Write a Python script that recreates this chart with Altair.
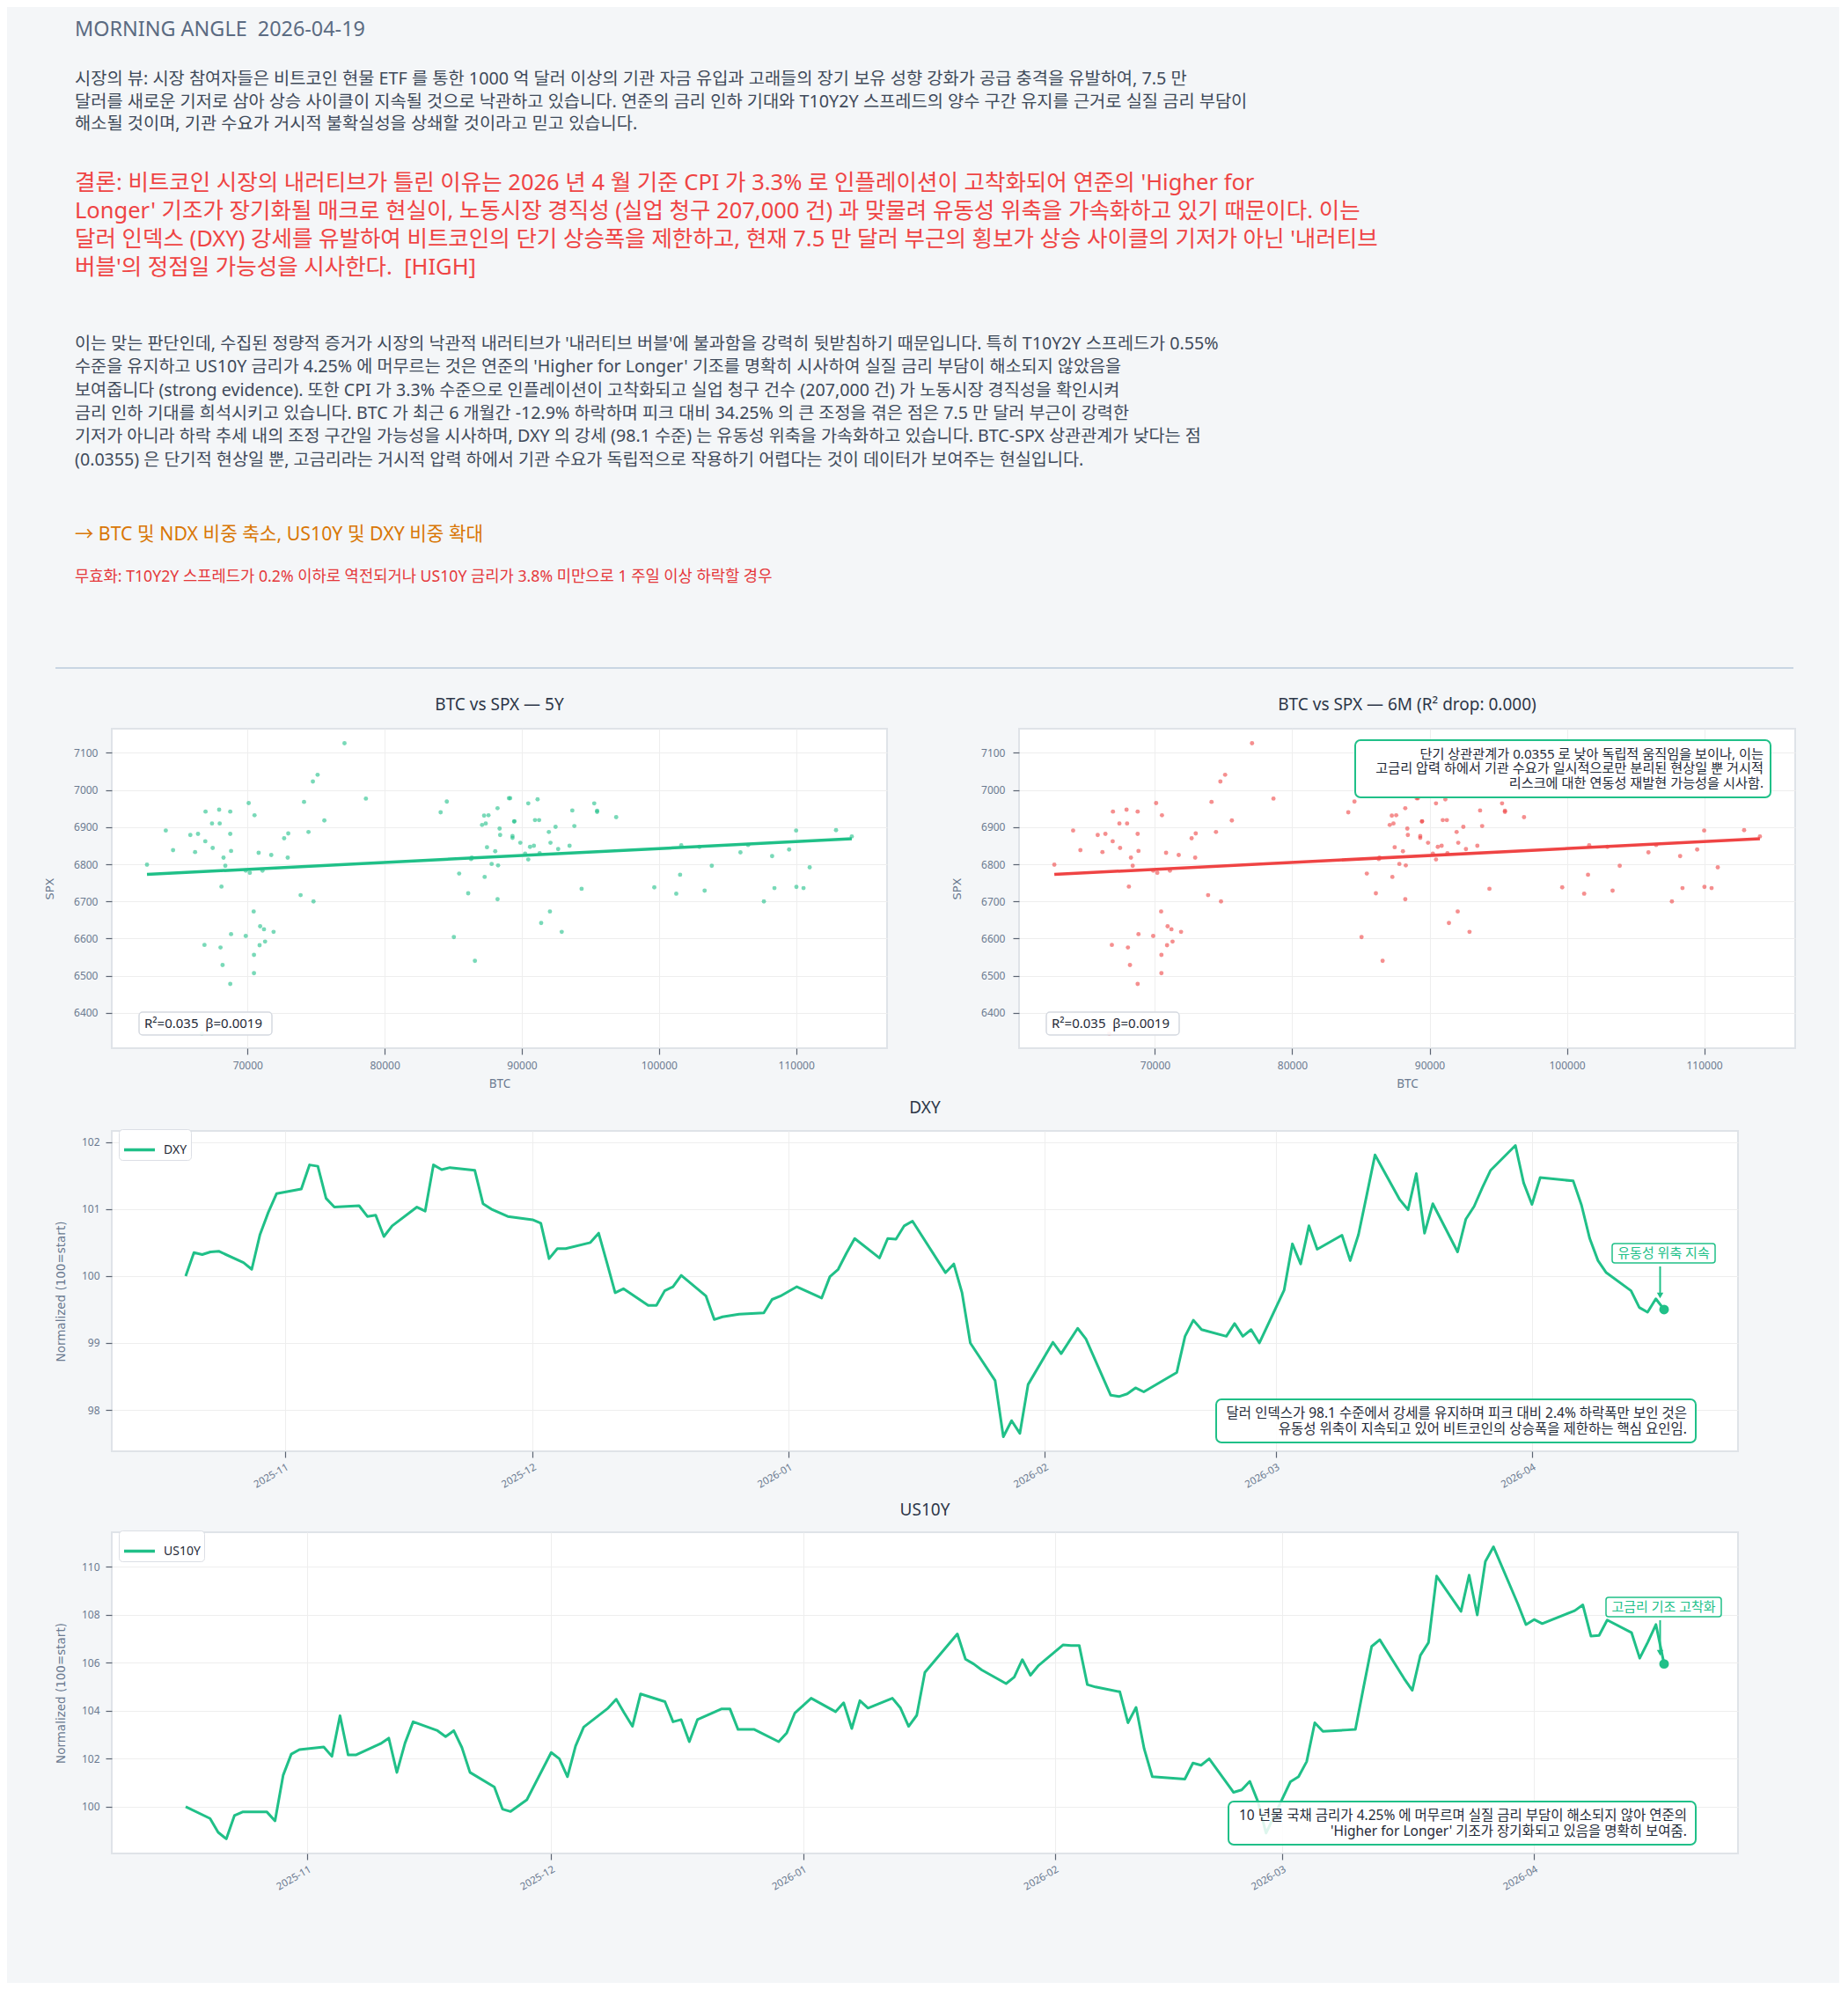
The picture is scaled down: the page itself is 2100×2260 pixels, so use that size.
import altair as alt
import pandas as pd

FONT = "Noto Sans, Noto Sans CJK KR"
AXFONT = "DejaVu Sans"
GREEN = "#20c088"
RED = "#ef4444"
INK = "#1f2937"
SLATE = "#6b7a90"
PAGE_BG = "#f4f6f8"
NB = "\u00a0"

# ---------------- text content ----------------
header_text = "MORNING ANGLE " + NB + "2026-04-19"
view_lines = [
    "시장의 뷰: 시장 참여자들은 비트코인 현물 ETF 를 통한 1000 억 달러 이상의 기관 자금 유입과 고래들의 장기 보유 성향 강화가 공급 충격을 유발하여, 7.5 만",
    "달러를 새로운 기저로 삼아 상승 사이클이 지속될 것으로 낙관하고 있습니다. 연준의 금리 인하 기대와 T10Y2Y 스프레드의 양수 구간 유지를 근거로 실질 금리 부담이",
    "해소될 것이며, 기관 수요가 거시적 불확실성을 상쇄할 것이라고 믿고 있습니다.",
]
conclusion_lines = [
    "결론: 비트코인 시장의 내러티브가 틀린 이유는 2026 년 4 월 기준 CPI 가 3.3% 로 인플레이션이 고착화되어 연준의 'Higher for",
    "Longer' 기조가 장기화될 매크로 현실이, 노동시장 경직성 (실업 청구 207,000 건) 과 맞물려 유동성 위축을 가속화하고 있기 때문이다. 이는",
    "달러 인덱스 (DXY) 강세를 유발하여 비트코인의 단기 상승폭을 제한하고, 현재 7.5 만 달러 부근의 횡보가 상승 사이클의 기저가 아닌 '내러티브",
    "버블'의 정점일 가능성을 시사한다. " + NB + "[HIGH]",
]
body_lines = [
    "이는 맞는 판단인데, 수집된 정량적 증거가 시장의 낙관적 내러티브가 '내러티브 버블'에 불과함을 강력히 뒷받침하기 때문입니다. 특히 T10Y2Y 스프레드가 0.55%",
    "수준을 유지하고 US10Y 금리가 4.25% 에 머무르는 것은 연준의 'Higher for Longer' 기조를 명확히 시사하여 실질 금리 부담이 해소되지 않았음을",
    "보여줍니다 (strong evidence). 또한 CPI 가 3.3% 수준으로 인플레이션이 고착화되고 실업 청구 건수 (207,000 건) 가 노동시장 경직성을 확인시켜",
    "금리 인하 기대를 희석시키고 있습니다. BTC 가 최근 6 개월간 -12.9% 하락하며 피크 대비 34.25% 의 큰 조정을 겪은 점은 7.5 만 달러 부근이 강력한",
    "기저가 아니라 하락 추세 내의 조정 구간일 가능성을 시사하며, DXY 의 강세 (98.1 수준) 는 유동성 위축을 가속화하고 있습니다. BTC-SPX 상관관계가 낮다는 점",
    "(0.0355) 은 단기적 현상일 뿐, 고금리라는 거시적 압력 하에서 기관 수요가 독립적으로 작용하기 어렵다는 것이 데이터가 보여주는 현실입니다.",
]
action_text = "→ BTC 및 NDX 비중 축소, US10Y 및 DXY 비중 확대"
invalid_text = "무효화: T10Y2Y 스프레드가 0.2% 이하로 역전되거나 US10Y 금리가 3.8% 미만으로 1 주일 이상 하락할 경우"

scatter_left_title = "BTC vs SPX — 5Y"
scatter_right_title = "BTC vs SPX — 6M (R² drop: 0.000)"
stats_text = "R²=0.035 " + NB + "β=0.0019"
scatter_note = [
    "단기 상관관계가 0.0355 로 낮아 독립적 움직임을 보이나, 이는",
    "고금리 압력 하에서 기관 수요가 일시적으로만 분리된 현상일 뿐 거시적",
    "리스크에 대한 연동성 재발현 가능성을 시사함.",
]
dxy_label = "유동성 위축 지속"
dxy_note = [
    "달러 인덱스가 98.1 수준에서 강세를 유지하며 피크 대비 2.4% 하락폭만 보인 것은",
    "유동성 위축이 지속되고 있어 비트코인의 상승폭을 제한하는 핵심 요인임.",
]
us10y_label = "고금리 기조 고착화"
us10y_note = [
    "10 년물 국채 금리가 4.25% 에 머무르며 실질 금리 부담이 해소되지 않아 연준의",
    "'Higher for Longer' 기조가 장기화되고 있음을 명확히 보여줌.",
]

# ---------------- data ----------------
btc = [62670, 64040, 64570, 65830, 66390, 66175, 66940, 66920, 67410, 67930, 67970, 67460,
       68740, 68740, 68250, 68800, 68380, 68100, 70085, 70510, 69870, 70170, 71090, 70810,
       71730, 72670, 72970, 72930, 74120, 74765, 75110, 74445, 75600, 77070, 78630, 73870,
       74810, 70450, 70920, 71200, 71900, 68800, 69870, 66860, 68030, 70880, 71280, 70470,
       68180, 70470, 68740, 66670, 84080, 84530, 85045, 85430, 86090, 86580, 86300, 86350,
       87100, 87250, 87370, 87570, 87460, 87290, 88060, 88230, 88380, 88420, 87800, 88270,
       88230, 89060, 89150, 89440, 89460, 89320, 89320, 89890, 90470, 91150, 90960, 91260,
       91970, 92460, 92090, 90600, 90880, 90240, 90470, 91300, 92650, 93480, 93680, 93830,
       95280, 95490, 95490, 96880, 94360, 92050, 91410, 92910, 99660, 101260, 101540, 101625,
       102950, 103330, 103850, 105940, 106500, 107650, 108250, 108420, 109490, 110000, 110020,
       110540, 110990, 112910, 114060]
spx = [6799, 6891, 6838, 6879, 6882, 6833, 6942, 6862, 6910, 6947, 6910, 6844,
       6942, 6882, 6818, 6836, 6796, 6740, 6965, 6932, 6783, 6777, 6783, 6831,
       6825, 6870, 6883, 6818, 6968, 7023, 7041, 6887, 6918, 7126, 6977, 6717,
       6700, 6673, 6633, 6625, 6618, 6612, 6607, 6583, 6576, 6582, 6592, 6556,
       6529, 6507, 6478, 6344, 6940, 6969, 6604, 6775, 6722, 6540, 6814, 6818,
       6906, 6931, 6910, 6932, 6846, 6766, 6835, 6951, 6896, 6879, 6801, 6797,
       6706, 6978, 6978, 6915, 6916, 6876, 6871, 6858, 6964, 6975, 6919, 6919,
       6887, 6901, 6858, 6847, 6850, 6829, 6813, 6830, 6841, 6850, 6945, 6903,
       6964, 6944, 6941, 6927, 6734, 6673, 6642, 6618, 6738, 6721, 6772, 6851,
       6847, 6729, 6796, 6832, 6852, 6700, 6822, 6736, 6840, 6891, 6739,
       6736, 6792, 6892, 6875]

# fitted line end points as drawn in the reference (R²=0.035, β≈0.0019)
fit_btc = [62670, 114060]
fit_spx = [6772.7, 6868.7]

dxy_dates = [
    "2025-10-20", "2025-10-21", "2025-10-22", "2025-10-23", "2025-10-24", "2025-10-27", "2025-10-28",
    "2025-10-29", "2025-10-30", "2025-10-31", "2025-11-03", "2025-11-04", "2025-11-05", "2025-11-06",
    "2025-11-07", "2025-11-10", "2025-11-11", "2025-11-12", "2025-11-13", "2025-11-14", "2025-11-17",
    "2025-11-18", "2025-11-19", "2025-11-20", "2025-11-21", "2025-11-24", "2025-11-25", "2025-11-26",
    "2025-11-28", "2025-12-01", "2025-12-02", "2025-12-03", "2025-12-04", "2025-12-05", "2025-12-08",
    "2025-12-09", "2025-12-10", "2025-12-11", "2025-12-12", "2025-12-15", "2025-12-16", "2025-12-17",
    "2025-12-18", "2025-12-19", "2025-12-22", "2025-12-23", "2025-12-24", "2025-12-26", "2025-12-29",
    "2025-12-30", "2025-12-31", "2026-01-02", "2026-01-05", "2026-01-06", "2026-01-07", "2026-01-08",
    "2026-01-09", "2026-01-12", "2026-01-13", "2026-01-14", "2026-01-15", "2026-01-16", "2026-01-20",
    "2026-01-21", "2026-01-22", "2026-01-23", "2026-01-26", "2026-01-27", "2026-01-28", "2026-01-29",
    "2026-01-30", "2026-02-02", "2026-02-03", "2026-02-04", "2026-02-05", "2026-02-06", "2026-02-09",
    "2026-02-10", "2026-02-11", "2026-02-12", "2026-02-13", "2026-02-17", "2026-02-18", "2026-02-19",
    "2026-02-20", "2026-02-23", "2026-02-24", "2026-02-25", "2026-02-26", "2026-02-27", "2026-03-02",
    "2026-03-03", "2026-03-04", "2026-03-05", "2026-03-06", "2026-03-09", "2026-03-10", "2026-03-11",
    "2026-03-12", "2026-03-13", "2026-03-16", "2026-03-17", "2026-03-18", "2026-03-19", "2026-03-20",
    "2026-03-23", "2026-03-24", "2026-03-25", "2026-03-26", "2026-03-27", "2026-03-30", "2026-03-31",
    "2026-04-01", "2026-04-02", "2026-04-06", "2026-04-07", "2026-04-08", "2026-04-09", "2026-04-10",
    "2026-04-13", "2026-04-14", "2026-04-15", "2026-04-16", "2026-04-17",
]
dxy_values = [
    100.00, 100.35, 100.32, 100.36, 100.37, 100.20, 100.10,
    100.62, 100.95, 101.23, 101.30, 101.66, 101.64, 101.16,
    101.03, 101.05, 100.89, 100.91, 100.59, 100.75, 101.03,
    100.97, 101.66, 101.59, 101.62, 101.58, 101.08, 101.00,
    100.89, 100.84, 100.79, 100.26, 100.41, 100.41, 100.50,
    100.64, 100.20, 99.75, 99.81, 99.56, 99.56, 99.78,
    99.84, 100.01, 99.70, 99.35, 99.39, 99.43, 99.45,
    99.65, 99.70, 99.84, 99.67, 99.99, 100.10, 100.34,
    100.56, 100.27, 100.56, 100.55, 100.75, 100.82, 100.05,
    100.18, 99.75, 99.00, 98.44, 97.60, 97.84, 97.65,
    98.38, 99.01, 98.84, 99.03, 99.22, 99.06, 98.22,
    98.20, 98.24, 98.33, 98.27, 98.56, 99.10, 99.34,
    99.20, 99.10, 99.29, 99.10, 99.20, 99.00, 99.79,
    100.48, 100.18, 100.75, 100.40, 100.61, 100.23, 100.62,
    101.21, 101.81, 101.14, 100.99, 101.53, 100.64, 101.08,
    100.36, 100.85, 101.04, 101.32, 101.58, 101.95, 101.39,
    101.07, 101.47, 101.42, 101.06, 100.56, 100.23, 100.05,
    99.78, 99.53, 99.46, 99.66, 99.50,
]

us10y_dates = [
    "2025-10-17", "2025-10-20", "2025-10-21", "2025-10-22", "2025-10-23", "2025-10-24", "2025-10-27",
    "2025-10-28", "2025-10-29", "2025-10-30", "2025-10-31", "2025-11-03", "2025-11-04", "2025-11-05",
    "2025-11-06", "2025-11-07", "2025-11-10", "2025-11-11", "2025-11-12", "2025-11-13", "2025-11-14",
    "2025-11-17", "2025-11-18", "2025-11-19", "2025-11-20", "2025-11-21", "2025-11-24", "2025-11-25",
    "2025-11-26", "2025-11-28", "2025-12-01", "2025-12-02", "2025-12-03", "2025-12-04", "2025-12-05",
    "2025-12-08", "2025-12-09", "2025-12-10", "2025-12-11", "2025-12-12", "2025-12-15", "2025-12-16",
    "2025-12-17", "2025-12-18", "2025-12-19", "2025-12-22", "2025-12-23", "2025-12-24", "2025-12-26",
    "2025-12-29", "2025-12-30", "2025-12-31", "2026-01-02", "2026-01-05", "2026-01-06", "2026-01-07",
    "2026-01-08", "2026-01-09", "2026-01-12", "2026-01-13", "2026-01-14", "2026-01-15", "2026-01-16",
    "2026-01-20", "2026-01-21", "2026-01-22", "2026-01-23", "2026-01-26", "2026-01-27", "2026-01-28",
    "2026-01-29", "2026-01-30", "2026-02-02", "2026-02-03", "2026-02-04", "2026-02-05", "2026-02-06",
    "2026-02-09", "2026-02-10", "2026-02-11", "2026-02-12", "2026-02-13", "2026-02-17", "2026-02-18",
    "2026-02-19", "2026-02-20", "2026-02-23", "2026-02-24", "2026-02-25", "2026-02-26", "2026-02-27",
    "2026-03-02", "2026-03-03", "2026-03-04", "2026-03-05", "2026-03-06", "2026-03-09", "2026-03-10",
    "2026-03-11", "2026-03-12", "2026-03-13", "2026-03-16", "2026-03-17", "2026-03-18", "2026-03-19",
    "2026-03-20", "2026-03-23", "2026-03-24", "2026-03-25", "2026-03-26", "2026-03-27", "2026-03-30",
    "2026-03-31", "2026-04-01", "2026-04-02", "2026-04-03", "2026-04-06", "2026-04-07", "2026-04-08",
    "2026-04-09", "2026-04-10", "2026-04-13", "2026-04-14", "2026-04-15", "2026-04-16", "2026-04-17",
]
us10y_values = [
    100.00, 99.51, 98.93, 98.66, 99.63, 99.78, 99.78,
    99.41, 101.31, 102.19, 102.38, 102.49, 102.10, 103.79,
    102.16, 102.16, 102.63, 102.86, 101.43, 102.65, 103.54,
    103.17, 102.92, 103.17, 102.47, 101.43, 100.82, 99.90,
    99.80, 100.29, 102.26, 102.00, 101.25, 102.53, 103.32,
    104.11, 104.48, 103.90, 103.35, 104.70, 104.38, 103.54,
    103.63, 102.71, 103.63, 104.08, 104.08, 103.22, 103.22,
    102.71, 103.08, 103.91, 104.52, 103.96, 104.33, 103.26,
    104.42, 104.11, 104.52, 104.11, 103.35, 103.81, 105.60,
    107.20, 106.15, 105.95, 105.70, 105.13, 105.40, 106.13,
    105.48, 105.89, 106.74, 106.72, 106.72, 105.09, 104.99,
    104.79, 103.50, 104.14, 102.41, 101.25, 101.15, 101.82,
    101.73, 102.00, 100.60, 100.70, 101.06, 100.21, 98.90,
    101.04, 101.25, 101.88, 103.50, 103.14, 103.20, 103.22,
    104.97, 106.68, 106.96, 105.34, 104.85, 106.31, 106.84,
    109.61, 108.14, 109.65, 107.99, 110.22, 110.83, 108.45,
    107.59, 107.80, 107.63, 107.77, 108.17, 108.41, 107.11,
    107.14, 107.78, 107.25, 106.19, 106.86, 107.59, 105.95,
]

btc_ticks = [70000, 80000, 90000, 100000, 110000]
spx_ticks = [6400, 6500, 6600, 6700, 6800, 6900, 7000, 7100]
dxy_ticks = [98, 99, 100, 101, 102]
us10y_ticks = [100, 102, 104, 106, 108, 110]
month_ticks = [(2025, 11), (2025, 12), (2026, 1), (2026, 2), (2026, 3), (2026, 4)]

# ---------------- helpers ----------------
ONE = alt.Data(values=[{"k": 0}])
LEFT = 118  # room left of each plot area (page x 8 -> plot x 126)


def pad_domain(vals, frac=0.05):
    lo, hi = min(vals), max(vals)
    d = (hi - lo) * frac
    return [lo - d, hi + d]


def time_domain(dates, frac=0.05):
    ts = pd.to_datetime(pd.Series(dates))
    lo, hi = ts.min(), ts.max()
    d = (hi - lo) * frac
    return [int((lo - d).value // 10**6), int((hi + d).value // 10**6)]


def text_at(txt, x, y, size, color, align="left", lh=None, font=FONT):
    kw = dict(text=txt, align=align, baseline="middle", fontSize=size, color=color, font=font)
    if lh is not None:
        kw["lineHeight"] = lh
    return alt.Chart(ONE).mark_text(**kw).encode(x=alt.value(x), y=alt.value(y))


def box(x1, x2, y1, y2, stroke, sw, radius, fill_opacity=1.0):
    return alt.Chart(ONE).mark_rect(
        fill="white", fillOpacity=fill_opacity, stroke=stroke, strokeWidth=sw, cornerRadius=radius
    ).encode(x=alt.value(x1), x2=alt.value(x2), y=alt.value(y1), y2=alt.value(y2))


def frame(L, T, W, H, R, B):
    return alt.Chart(ONE).mark_rect(opacity=0).encode(
        x=alt.value(-L), x2=alt.value(W + R), y=alt.value(-T), y2=alt.value(H + B)
    )


def arrow(x, y1, y2):
    shaft = alt.Chart(ONE).mark_rule(color=GREEN, strokeWidth=2).encode(
        x=alt.value(x), y=alt.value(y1), y2=alt.value(y2 - 4)
    )
    head = alt.Chart(ONE).mark_point(shape="triangle-down", filled=True, size=55, color=GREEN, opacity=1).encode(
        x=alt.value(x), y=alt.value(y2 - 3)
    )
    return [shaft, head]


def panel_title(txt, W, y):
    return text_at(txt, W / 2, y, 19, "#2d3748", align="center")


PLOT_VIEW = alt.ViewBackground(fill="white", stroke="#dfe3e8", strokeWidth=2)

# ---------------- header (origin = plot left, page x 126, page y 8) ----------------
HH = 767
TX = 84 - 126
header = alt.layer(
    frame(LEFT, 0, 1848, HH, 114, 0),
    text_at(header_text, TX, 25, 23.4, "#5b6b82"),
    text_at(view_lines, TX, 81, 19.8, "#3f4a5a", lh=25.5),
    text_at(conclusion_lines, TX, 198.5, 25.5, "#ef4444", lh=32.3),
    text_at(body_lines, TX, 382, 19.65, "#3f4a5a", lh=26.3),
    text_at(action_text, TX, 598.5, 21.3, "#d97706"),
    text_at(invalid_text, TX, 647, 17.7, "#e5383b"),
    alt.Chart(ONE).mark_rule(color="#c9d6e3", strokeWidth=2).encode(
        x=alt.value(62 - 126), x2=alt.value(2037 - 126), y=alt.value(750)
    ),
).properties(width=1848, height=HH, view=alt.ViewBackground(fill="transparent", stroke="transparent"))

# ---------------- scatters ----------------
scatter_df = pd.DataFrame({"btc": btc, "spx": spx})
fit_df = pd.DataFrame({"btc": fit_btc, "spx": fit_spx})
SH = 363


def scatter_panel(ttl, color, W, R, note=None):
    xenc = alt.X("btc:Q", scale=alt.Scale(domain=pad_domain(btc), nice=False, zero=False),
                 axis=alt.Axis(values=btc_ticks, format="d", title="BTC", titleFont=FONT,
                               titleFontSize=13.5, titlePadding=8, labelPadding=7, tickSize=7,
                               labelFlush=False, labelOverlap=False))
    yenc = alt.Y("spx:Q", scale=alt.Scale(domain=pad_domain(spx), nice=False, zero=False),
                 axis=alt.Axis(values=spx_ticks, format="d", title="SPX", titleFont=AXFONT,
                               titleFontSize=13, titlePadding=20, labelPadding=9, tickSize=7,
                               labelFlush=False, labelOverlap=False))
    layers = [
        frame(LEFT, 50, W, SH, R, 53),
        panel_title(ttl, W, -27),
        alt.Chart(scatter_df).mark_circle(size=24, color=color, opacity=0.6).encode(x=xenc, y=yenc),
        alt.Chart(fit_df).mark_line(color=color, strokeWidth=3.5).encode(x=xenc, y=yenc),
        box(31, 182, 322, 348, "#d5d9e0", 1.5, 4, 0.92),
        text_at(stats_text, 37, 335, 15, INK),
    ]
    if note is not None:
        layers += [
            box(382, 854, 13, 78, GREEN, 2, 6),
            text_at(note, 846, 28.5, 15.2, INK, align="right", lh=16.5),
        ]
    return alt.layer(*layers).properties(width=W, height=SH, view=PLOT_VIEW)


left = scatter_panel(scatter_left_title, GREEN, 881, 30)
right = scatter_panel(scatter_right_title, RED, 882, 10, note=scatter_note)
row = alt.hconcat(left, right, spacing=0)

# ---------------- time series ----------------
TW = 1848


def ts_panel(name, dates, values, ticks, H, T, B, ty, label, lbox, arr, note, nbox):
    df = pd.DataFrame({"date": dates, "value": values, "series": name})
    last = df.iloc[[-1]]
    xenc = alt.X("date:T", scale=alt.Scale(domain=time_domain(dates)),
                 axis=alt.Axis(values=[alt.DateTime(year=y, month=m, date=1) for y, m in month_ticks],
                               format="%Y-%m", labelAngle=-30, labelAlign="right", labelBaseline="top",
                               labelFontSize=11.5, labelPadding=5, tickSize=7, title=None,
                               labelFlush=False, labelOverlap=False))
    yenc = alt.Y("value:Q", scale=alt.Scale(domain=pad_domain(values), nice=False, zero=False),
                 axis=alt.Axis(values=ticks, format="d", title="Normalized (100=start)", titleFont=AXFONT,
                               titleFontSize=13.5, titlePadding=16, labelPadding=7, tickSize=7,
                               labelFlush=False, labelOverlap=False))
    legend = alt.Legend(title=None, orient="none", legendX=8, legendY=-2, padding=4, symbolType="stroke",
                        symbolSize=1225, symbolStrokeWidth=3.5, labelFont=FONT, labelFontSize=14,
                        labelColor=INK, labelOffset=8, fillColor="white", strokeColor="#dcdfe5",
                        cornerRadius=4)
    line = alt.Chart(df).mark_line(strokeWidth=3, strokeJoin="round").encode(
        x=xenc, y=yenc, color=alt.Color("series:N", scale=alt.Scale(range=[GREEN]), legend=legend)
    )
    dot = alt.Chart(last).mark_circle(size=120, color=GREEN, opacity=1).encode(x=xenc, y=yenc)
    lx1, lx2, ly1, ly2 = lbox
    nx1, nx2, ny1, ny2 = nbox
    layers = [
        frame(LEFT, T, TW, H, 114, B),
        panel_title(name, TW, ty),
        line,
        dot,
        box(lx1, lx2, ly1, ly2, GREEN, 1.5, 3, 0.9),
        text_at(label, (lx1 + lx2) / 2, (ly1 + ly2) / 2, 15, GREEN, align="center"),
        *arrow(*arr),
        box(nx1, nx2, ny1, ny2, GREEN, 2, 6, 0.85),
        text_at(note, nx2 - 10, ny1 + 16, 15.5, INK, align="right", lh=18),
    ]
    return alt.layer(*layers).properties(width=TW, height=H, view=PLOT_VIEW)


dxy = ts_panel("DXY", dxy_dates, dxy_values, dxy_ticks, 364, 39, 53, -26,
               dxy_label, (1705, 1822, 128, 150), (1759.5, 154, 190), dxy_note, (1255, 1800, 305, 354))
us10y = ts_panel("US10Y", us10y_dates, us10y_values, us10y_ticks, 365, 37, 146, -25,
                 us10y_label, (1698, 1829, 74, 96), (1759.5, 100, 140), us10y_note, (1269, 1800, 306, 355))

chart = alt.concat(header, row, dxy, us10y, columns=1, spacing=0, align="none").resolve_scale(
    color="independent"
).properties(
    padding=0, background=PAGE_BG
).configure_axis(
    labelFont=FONT, labelFontSize=12, labelColor=SLATE, tickColor="#5b6472", tickWidth=1.2,
    domain=False, gridColor="#eeeeee", gridWidth=1, titleColor=SLATE, titleFontWeight="normal",
).configure_legend(
    labelFont=FONT
)

chart.save("out.html", embed_options={"renderer": "svg", "actions": False})
